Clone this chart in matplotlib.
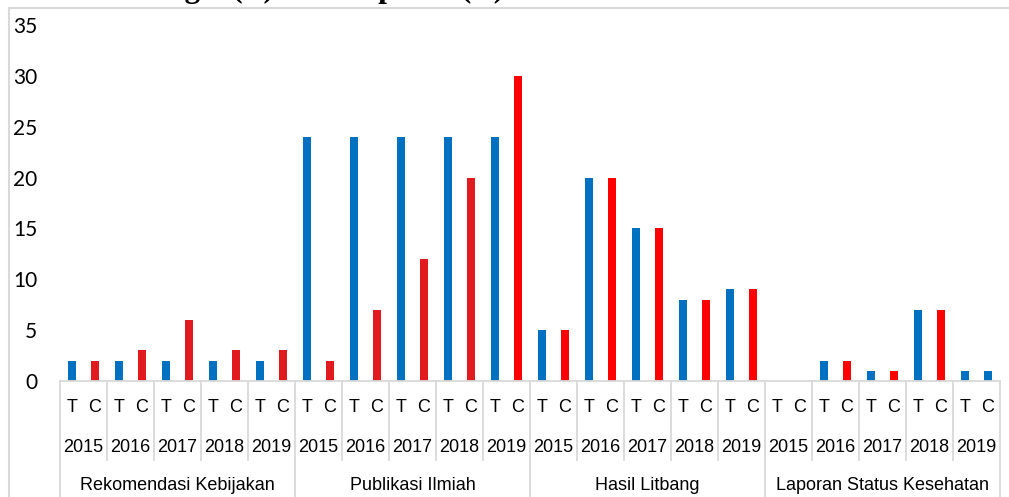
import matplotlib
matplotlib.use("Agg")
import matplotlib.pyplot as plt
from matplotlib.lines import Line2D

# --- data -------------------------------------------------------------
categories = ["Rekomendasi Kebijakan", "Publikasi Ilmiah", "Hasil Litbang",
              "Laporan Status Kesehatan"]
years = ["2015", "2016", "2017", "2018", "2019"]
series_labels = ["T", "C"]

target = [2, 2, 2, 2, 2,
          24, 24, 24, 24, 24,
          5, 20, 15, 8, 9,
          0, 2, 1, 7, 1]
capaian = [2, 3, 6, 3, 3,
           2, 7, 12, 20, 30,
           5, 20, 15, 8, 9,
           0, 2, 1, 7, 1]

yticks = [0, 5, 10, 15, 20, 25, 30, 35]

# --- styling ----------------------------------------------------------
BLUE = "#0070C0"
DARK_RED = "#E01A1F"
RED = "#FF0000"
GRID = "#D9D9D9"

t_colors = [BLUE] * 20
c_colors = [DARK_RED] * 9 + [RED] * 10 + [BLUE]

W, H = 1009, 497
fig = plt.figure(figsize=(W / 100, H / 100), dpi=100)

# plot area in pixel coordinates
x0, x1 = 60, 1000
y_zero, y_top = 381, 25
ax = fig.add_axes([x0 / W, (H - y_zero) / H, (x1 - x0) / W, (y_zero - y_top) / H])

n = len(target)
t_pos = [i + 0.255 for i in range(n)]
c_pos = [i + 0.745 for i in range(n)]
bw = 0.17
ax.bar(t_pos, target, width=bw, color=t_colors, linewidth=0)
ax.bar(c_pos, capaian, width=bw, color=c_colors, linewidth=0)

ax.set_xlim(0, n)
ax.set_ylim(0, 35)
ax.set_yticks(yticks)
ax.set_yticklabels([str(v) for v in yticks], fontfamily="Lato", fontsize=15)
ax.tick_params(axis="y", length=0, pad=16.5)
ax.set_xticks([])
for side in ("left", "right", "top"):
    ax.spines[side].set_visible(False)
ax.spines["bottom"].set_color(GRID)
ax.spines["bottom"].set_linewidth(1.3)

# --- multi-level category axis ---------------------------------------
axis_h = y_zero - y_top


def ay(ypx):
    return (y_zero - ypx) / axis_h


trans = ax.get_xaxis_transform()
lab_font = dict(fontfamily=["Liberation Sans Narrow", "Liberation Sans"],
                fontsize=13, color="black", ha="center", va="center")

for i in range(n):
    ax.text(t_pos[i], ay(407), series_labels[0], transform=trans,
            clip_on=False, **lab_font)
    ax.text(c_pos[i], ay(407), series_labels[1], transform=trans,
            clip_on=False, **lab_font)
    ax.text(i + 0.5, ay(447), years[i % len(years)], transform=trans,
            clip_on=False, **lab_font)

for k, cat in enumerate(categories):
    ax.text(k * 5 + 2.5, ay(485), cat, transform=trans, clip_on=False,
            **lab_font)

# separators: short ones between years, long ones between categories
for i in range(n + 1):
    bottom = ay(H + 5) if i % 5 == 0 else ay(460)
    ax.add_line(Line2D([i, i], [0, bottom], transform=trans, color=GRID,
                       linewidth=1.3, clip_on=False))

# chart frame
fig.add_artist(Line2D([8.5 / W, 8.5 / W], [0, (H - 7.5) / H],
                      transform=fig.transFigure, color=GRID, linewidth=1.5))
fig.add_artist(Line2D([8.5 / W, 1.0], [(H - 7.5) / H, (H - 7.5) / H],
                      transform=fig.transFigure, color=GRID, linewidth=1.5))

# heading above the chart frame
fig.text(137 / W, 1 + 2.5 / H, "Target (T) dan Capaian (C)",
         fontfamily="Liberation Serif", fontweight="bold", fontsize=22.5,
         ha="left", va="baseline")

fig.savefig("out.png", dpi=100)
